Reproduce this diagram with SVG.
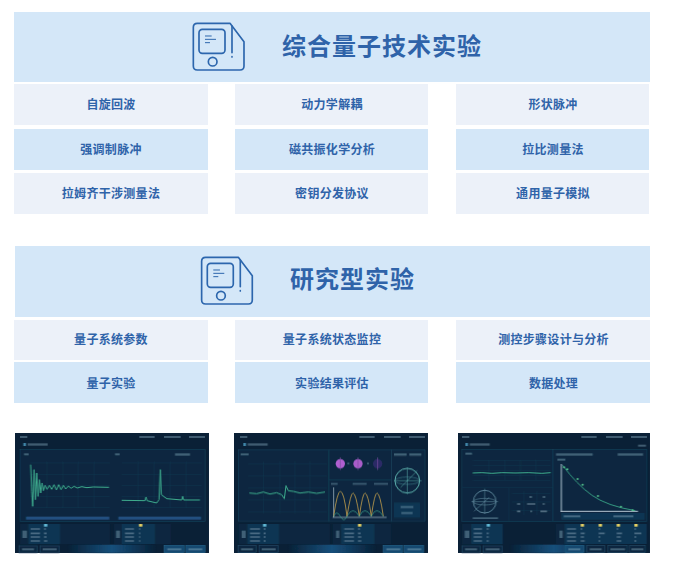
<svg xmlns="http://www.w3.org/2000/svg" xmlns:xlink="http://www.w3.org/1999/xlink" width="688" height="567" viewBox="0 0 688 567">
<style>
text{font-family:"Noto Sans CJK SC","Liberation Sans",sans-serif;font-weight:700;fill:#2f63a9;text-anchor:middle}
.t{font-size:24px;letter-spacing:1px}
.r{font-size:12px;letter-spacing:.3px}
.h{fill:#d4e7f8}.a{fill:#ecf1f9}.b{fill:#d4e7f8}
.ic{fill:none;stroke:#2c66ad;stroke-width:5;stroke-linejoin:round;stroke-linecap:round}
.ic2{fill:none;stroke:#2c66ad;stroke-width:3}
.bg{fill:#0a2036}.p{fill:#0c2840;stroke:#174059;stroke-width:2}
.q{fill:#0f3653}.k{fill:#8fb3c8;opacity:.4}.g{stroke:#18405a;stroke-width:1;fill:none}
.tr{fill:none;stroke:#3fae8f;stroke-width:3}
.btn{fill:#174a70;stroke:#256286;stroke-width:2}.btn2{fill:#0e2840;stroke:#234a66;stroke-width:2}
.sl{fill:#234f80}
</style>
<defs>
<filter id="soft" x="-5%" y="-5%" width="110%" height="110%"><feGaussianBlur stdDeviation="2.200"/></filter>
<linearGradient id="glow" x1="0" x2="1" y1="0" y2="0"><stop offset="0" stop-color="#17507c" stop-opacity="0"/><stop offset=".5" stop-color="#17507c"/><stop offset="1" stop-color="#17507c" stop-opacity="0"/></linearGradient>
<g id="icon" transform="scale(.3333)">
<path class="ic" d="M52 40H150L192 95V168Q192 180 180 180H52Q40 180 40 168V52Q40 40 52 40Z"/>
<rect class="ic" x="57" y="58" width="78" height="72" rx="10"/>
<circle class="ic" cx="98" cy="155" r="13"/>
<path class="ic" d="M156 48V128M156 140V141"/>
<path class="ic2" d="M75 78H95M75 88H108M75 98H90"/>
</g>
<g id="frame">
<rect x="170" y="350" width="270" height="25" fill="url(#glow)"/>
<rect class="k" x="30" y="24" width="22" height="6"/><rect class="k" x="388" y="24" width="46" height="6"/><rect class="k" x="462" y="24" width="50" height="6"/><rect class="k" x="537" y="24" width="48" height="6"/>
<rect x="40" y="45" width="8" height="9" fill="#3f86a8"/><rect class="k" x="53" y="46" width="60" height="7"/>
</g>
<g id="foot">
<rect class="btn2" x="27" y="353" width="54" height="21"/>
<rect class="btn2" x="90" y="353" width="58" height="21"/>
<rect class="k" x="36" y="361" width="36" height="6"/><rect class="k" x="98" y="361" width="42" height="6"/>
</g>
</defs>

<g id="header-1"><rect class="h" x="14" y="12" width="636" height="70"/><use xlink:href="#icon" href="#icon" transform="translate(180,10)"/><text class="t" x="382" y="54.500">综合量子技术实验</text></g>
<g id="n-1"><rect class="a" x="14" y="84" width="194" height="41"/><text class="r" x="111" y="108.500">自旋回波</text></g>
<g id="n-2"><rect class="a" x="235" y="84" width="193" height="41"/><text class="r" x="332" y="108.500">动力学解耦</text></g>
<g id="n-3"><rect class="a" x="456" y="84" width="193" height="41"/><text class="r" x="553" y="108.500">形状脉冲</text></g>
<g id="n-4"><rect class="b" x="14" y="129" width="194" height="41"/><text class="r" x="111" y="153.500">强调制脉冲</text></g>
<g id="n-5"><rect class="b" x="235" y="129" width="193" height="41"/><text class="r" x="332" y="153.500">磁共振化学分析</text></g>
<g id="n-6"><rect class="b" x="456" y="129" width="193" height="41"/><text class="r" x="553" y="153.500">拉比测量法</text></g>
<g id="n-7"><rect class="a" x="14" y="173" width="194" height="41"/><text class="r" x="111" y="197.500">拉姆齐干涉测量法</text></g>
<g id="n-8"><rect class="a" x="235" y="173" width="193" height="41"/><text class="r" x="332" y="197.500">密钥分发协议</text></g>
<g id="n-9"><rect class="a" x="456" y="173" width="193" height="41"/><text class="r" x="553" y="197.500">通用量子模拟</text></g>

<g id="header-2"><rect class="h" x="15" y="246" width="635" height="71"/><use xlink:href="#icon" href="#icon" transform="translate(188.300,244)"/><text class="t" x="352.500" y="287.500">研究型实验</text></g>
<g id="m-1"><rect class="a" x="14" y="320" width="194" height="40"/><text class="r" x="111" y="343.500">量子系统参数</text></g>
<g id="m-2"><rect class="a" x="235" y="320" width="193" height="40"/><text class="r" x="332" y="343.500">量子系统状态监控</text></g>
<g id="m-3"><rect class="a" x="456" y="320" width="194" height="40"/><text class="r" x="553.500" y="343.500">测控步骤设计与分析</text></g>
<g id="m-4"><rect class="b" x="14" y="362" width="194" height="41"/><text class="r" x="111" y="387.500">量子实验</text></g>
<g id="m-5"><rect class="b" x="235" y="362" width="193" height="41"/><text class="r" x="332" y="387.500">实验结果评估</text></g>
<g id="m-6"><rect class="b" x="456" y="362" width="194" height="41"/><text class="r" x="553.500" y="387.500">数据处理</text></g>

<g id="screen-1" transform="translate(10,428) scale(.3333)">
<rect class="bg" x="15" y="15" width="582" height="360"/>
<g filter="url(#soft)">
<use xlink:href="#frame" href="#frame"/>
<rect class="p" x="30" y="65" width="555" height="215"/>
<rect class="k" x="42" y="76" width="14" height="6"/><rect class="k" x="315" y="76" width="14" height="6"/><rect class="k" x="495" y="76" width="45" height="7"/>
<path class="g" d="M60 105H300M60 140H300M60 172H300M60 205H300M60 238H300M110 100V240M158 100V240M205 100V240M252 100V240M335 105H575M335 140H575M335 172H575M335 205H575M335 238H575M385 100V240M432 100V240M480 100V240M528 100V240"/>
<path class="tr" d="M62 110L65 190L68 235L72 125L76 215L80 135L84 205L88 155L92 195L96 165L100 188L105 172L111 184L118 172L125 184L132 170L139 186L146 170L153 185L160 172L167 183L175 174L183 181L192 175L202 180L215 176L230 179L250 177L297 178"/>
<path class="tr" d="M335 217L405 218L408 207L411 218L440 225L447 215L451 125L454 200L470 212L515 216L518 205L521 216L570 216"/>
<rect class="sl" x="48" y="266" width="250" height="9"/><rect class="sl" x="325" y="266" width="248" height="9"/>
<rect x="30" y="288" width="270" height="60" fill="#0c2840"/><rect x="312" y="288" width="170" height="60" fill="#0c2840"/>
<rect class="q" x="55" y="288" width="95" height="60"/><rect class="q" x="335" y="288" width="100" height="60"/>
<rect x="102" y="288" width="10" height="8" fill="#62b9d6"/><rect x="387" y="288" width="10" height="8" fill="#e5cf63"/>
<rect class="k" x="37" y="308" width="14" height="22"/><rect class="k" x="318" y="308" width="12" height="22"/>
<path stroke="#9fb9cb" stroke-width="5" opacity=".4" d="M62 303H90M62 316H90M62 327H90M62 339H90M345 303H372M345 316H372M345 327H372M345 339H372M102 303H108M102 316H110M102 327H110M102 339H112M387 303H391M387 316H391M387 327H391M387 339H391"/>
<use xlink:href="#foot" href="#foot"/>
<rect class="btn" x="462" y="352" width="60" height="22"/><rect class="btn" x="527" y="352" width="58" height="22"/>
<rect class="k" x="472" y="361" width="42" height="6"/><rect class="k" x="535" y="361" width="42" height="6"/>
</g></g>

<g id="screen-2" transform="translate(230,428) scale(.3333)">
<rect class="bg" x="12" y="15" width="582" height="360"/>
<g filter="url(#soft)">
<use xlink:href="#frame" href="#frame"/>
<rect class="p" x="25" y="65" width="272" height="215"/><rect class="p" x="297" y="65" width="188" height="90"/><rect class="p" x="297" y="155" width="188" height="125"/><rect class="p" x="485" y="65" width="100" height="215"/>
<rect class="k" x="32" y="76" width="24" height="6"/><rect class="k" x="492" y="76" width="38" height="7"/><rect class="k" x="538" y="76" width="36" height="7"/>
<path class="g" d="M55 108H290M55 144H290M55 180H290M55 216H290M55 252H290M100 100V256M150 100V256M195 100V256M240 100V256"/>
<path class="tr" stroke-width="2" d="M58 195L80 197L100 192L120 198L140 194L155 200L163 212L168 173L175 188L190 190L210 195L235 192L260 196L285 192"/>
<circle cx="331" cy="107" r="14" fill="#b15fd0"/><circle cx="384" cy="107" r="14" fill="#a85cc8"/><circle cx="443" cy="107" r="14" fill="#2c2b66"/>
<path stroke="#7c4ea0" stroke-width="2" d="M331 88V126M384 88V126M443 88V126"/>
<rect class="k" x="352" y="104" width="6" height="5"/><rect class="k" x="411" y="104" width="6" height="5"/>
<rect class="k" x="303" y="165" width="20" height="5"/><rect class="k" x="368" y="165" width="42" height="5"/><rect class="k" x="432" y="165" width="42" height="5"/>
<path d="M311 268V178M308 268H470" stroke="#b9c9d6" stroke-width="2" fill="none"/>
<path fill="none" stroke="#c09a4c" stroke-width="2.500" d="M311 265Q322 190 331 190Q342 190 351 265Q362 195 369 195Q378 195 388 265Q398 195 405 195Q414 195 424 265Q434 195 441 195Q450 195 460 265"/>
<path fill="none" stroke="#3fa08e" stroke-width="2" d="M311 265Q320 245 331 265T351 265Q360 248 369 248T388 265Q396 248 405 248T424 265Q432 248 441 248T460 265"/>
<circle cx="532" cy="158" r="37" fill="none" stroke="#5fb3b0" stroke-width="3"/>
<ellipse cx="532" cy="158" rx="37" ry="11" fill="none" stroke="#4d8f9c" stroke-width="1.500"/>
<path stroke="#5fb3b0" stroke-width="1.500" fill="none" d="M532 118V198M492 158H575M512 178L562 128"/>
<rect class="q" x="492" y="224" width="78" height="45"/><rect class="k" x="512" y="234" width="38" height="6"/><rect class="k" x="514" y="252" width="34" height="6"/>
<rect x="25" y="288" width="275" height="60" fill="#0c2840"/><rect x="308" y="288" width="175" height="60" fill="#0c2840"/>
<rect class="q" x="52" y="288" width="95" height="60"/><rect class="q" x="333" y="288" width="100" height="60"/>
<rect x="99" y="288" width="10" height="8" fill="#62b9d6"/><rect x="384" y="288" width="10" height="8" fill="#e5cf63"/>
<rect class="k" x="35" y="308" width="12" height="22"/><rect class="k" x="318" y="308" width="10" height="22"/>
<path stroke="#9fb9cb" stroke-width="5" opacity=".4" d="M60 303H90M60 316H90M60 327H90M60 339H90M343 303H372M343 316H372M343 327H372M343 339H372M101 303H107M101 316H107M101 327H107M101 339H107M384 303H390M384 316H392M384 327H394M384 339H394"/>
<g transform="translate(-3,0)"><use xlink:href="#foot" href="#foot"/></g>
<rect class="btn" x="460" y="352" width="58" height="22"/><rect class="btn" x="523" y="352" width="58" height="22"/>
<rect class="k" x="469" y="361" width="42" height="6"/><rect class="k" x="532" y="361" width="42" height="6"/>
</g></g>

<g id="screen-3" transform="translate(452,428) scale(.3333)">
<rect class="bg" x="18" y="15" width="576" height="360"/>
<g filter="url(#soft)">
<use xlink:href="#frame" href="#frame"/>
<rect class="k" x="558" y="50" width="24" height="6"/>
<rect class="p" x="30" y="65" width="272" height="215"/><rect class="p" x="302" y="65" width="283" height="215"/>
<path class="g" d="M30 178H302M170 178V280M62 98H295M62 113H295M62 127H295M62 142H295M62 157H295M110 95V158M158 95V158M205 95V158M252 95V158"/>
<rect class="k" x="40" y="74" width="20" height="6"/><rect class="k" x="312" y="76" width="110" height="7"/><rect class="k" x="497" y="76" width="76" height="7"/><rect class="k" x="316" y="92" width="24" height="6"/>
<path class="tr" stroke-width="2" d="M62 135L90 134L120 136L150 134L190 135L230 134L270 136L296 134"/>
<circle cx="98" cy="221" r="34" fill="none" stroke="#6b93a8" stroke-width="2.500"/><ellipse cx="98" cy="221" rx="34" ry="10" fill="none" stroke="#6b93a8" stroke-width="1.500"/>
<path stroke="#6b93a8" stroke-width="1.500" d="M98 182V258M58 221H138M66 250L112 208"/>
<rect class="k" x="62" y="268" width="76" height="5"/>
<path class="g" d="M180 197H295M180 222H295M180 248H295M215 190V262M255 190V262"/>
<path stroke="#b7cedc" stroke-width="5" opacity=".4" d="M232 207H240M272 207H280M195 228H205M225 228H250M272 228H278M195 250H205M235 250H240M265 250H285"/>
<path d="M328 252V108M326 250H558" stroke="#b9c9d6" stroke-width="3" fill="none"/>
<path fill="none" stroke="#3fae8f" stroke-width="2.500" d="M332 112Q375 170 420 202T550 248"/>
<g fill="#57c790"><circle cx="336" cy="118" r="3"/><circle cx="346" cy="124" r="3"/><circle cx="377" cy="153" r="3"/><circle cx="392" cy="170" r="3"/><circle cx="438" cy="204" r="3"/><circle cx="507" cy="236" r="3"/><circle cx="542" cy="247" r="3"/></g>
<rect class="q" x="328" y="255" width="250" height="20"/><rect class="k" x="335" y="262" width="50" height="6"/><rect class="k" x="484" y="262" width="60" height="6"/>
<rect x="30" y="288" width="122" height="60" fill="#0c2840"/><rect x="312" y="288" width="272" height="60" fill="#0c2840"/>
<rect class="q" x="58" y="288" width="94" height="60"/><rect class="q" x="338" y="288" width="246" height="60"/>
<rect x="104" y="288" width="10" height="8" fill="#62b9d6"/><g fill="#e5cf63"><rect x="386" y="288" width="10" height="8"/><rect x="440" y="288" width="10" height="8"/><rect x="494" y="288" width="10" height="8"/><rect x="547" y="288" width="10" height="8"/></g>
<rect class="k" x="38" y="308" width="14" height="22"/><rect class="k" x="322" y="308" width="10" height="22"/>
<path stroke="#9fb9cb" stroke-width="5" opacity=".4" d="M65 303H90M65 316H90M65 327H90M65 339H90M345 303H372M345 316H372M345 327H372M345 339H372M104 303H110M104 316H110M104 327H110M104 339H110M386 303H391M386 316H398M386 327H396M386 339H398M440 303H445M440 316H458M440 327H445M440 339H445M494 303H499M494 316H510M494 327H506M494 339H508M547 303H552M547 316H568M547 327H553M547 339H553"/>
<g transform="translate(3,0)"><use xlink:href="#foot" href="#foot"/></g>
<rect class="btn" x="340" y="352" width="55" height="22"/><rect class="btn2" x="404" y="352" width="55" height="22"/><rect class="btn2" x="468" y="352" width="58" height="22"/><rect class="btn2" x="532" y="352" width="48" height="22"/>
<rect class="k" x="349" y="361" width="36" height="6"/><rect class="k" x="413" y="361" width="36" height="6"/><rect class="k" x="475" y="361" width="44" height="6"/><rect class="k" x="538" y="361" width="36" height="6"/>
</g></g>
</svg>
